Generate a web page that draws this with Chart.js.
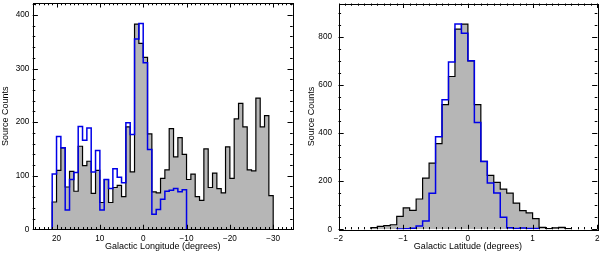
<!DOCTYPE html>
<html>
<head>
<meta charset="utf-8">
<script src="https://cdn.jsdelivr.net/npm/chart.js@4.4.1/dist/chart.umd.min.js"></script>
<style>
  html, body { margin: 0; padding: 0; background: #fff; }
  #wrap { position: relative; width: 600px; height: 253px; }
  canvas { position: absolute; top: 0; }
  #lonChart { left: 0; }
  #latChart { left: 300px; }
</style>
</head>
<body>
<div id="wrap">
  <canvas id="lonChart" width="300" height="253"></canvas>
  <canvas id="latChart" width="300" height="253"></canvas>
</div>
<script>
// longitude histograms, 1 degree bins running from l=+21 down to l=-30
const lonStartAll = 21;
const lonStartSub = 21;
const lonBinWidth = -1;
const lonAll = [51, 110, 152, 79, 108, 71, 155, 119, 127, 67,
                110, 50, 93, 50, 78, 82, 61, 191, 107, 383,
                347, 321, 178, 70, 68, 95, 111, 188, 135, 171,
                140, 93, 103, 61, 54, 150, 78, 105, 76, 68,
                154, 95, 206, 235, 191, 111, 109, 245, 191, 212,
                63];
const lonSub = [103, 173, 152, 36, 93, 106, 192, 166, 189, 107,
                147, 36, 93, 76, 113, 97, 87, 199, 177, 355,
                384, 311, 149, 28, 37, 56, 71, 73, 76, 70,
                74];

// latitude histograms, 0.1 degree bins
const latStartAll = -1.5;
const latStartSub = -1.1;
const latBinWidth = 0.1;
const latAll = [7, 12, 15, 19, 54, 89, 79, 126, 213, 275,
                356, 518, 635, 832, 853, 700, 518, 282, 224, 195,
                167, 150, 109, 78, 68, 44, 8, 3, 6, 8,
                3];
const latSub = [1, 2, 4, 14, 35, 150, 385, 538, 695, 853,
                815, 700, 444, 282, 192, 151, 50, 6, 3, 5,
                3, 3];

const lonTicks = [20, 10, 0, -10, -20, -30];
const latTicks = [-2, -1, 0, 1, 2];
const lonCountTicks = [0, 100, 200, 300, 400];
const latCountTicks = [0, 200, 400, 600, 800];

Chart.defaults.font.family = '"Liberation Sans", Arial, sans-serif';
Chart.defaults.color = '#000';

// turn bin counts into step outline points (left edge of each bin)
function stepPoints(start, width, counts) {
    const pts = [{ x: start, y: 0 }];
    counts.forEach((c, i) => pts.push({ x: start + i * width, y: c }));
    pts.push({ x: start + counts.length * width, y: 0 });
    return pts;
}

const fmt = v => (v < 0 ? '\u2212' + Math.abs(v) : String(v));

// IDL style box with inward major/minor ticks on all four sides
const boxTicks = {
    id: 'boxTicks',
    afterDatasetsDraw(chart, args, o) {
        const { ctx, chartArea: a, scales: { x, y } } = chart;
        const xl = (a.bottom - a.top) * 0.02;
        const yl = (a.right - a.left) * 0.02;
        ctx.save();
        ctx.strokeStyle = '#000';
        ctx.lineWidth = 1;
        ctx.beginPath();
        for (let k = Math.ceil(x.min / o.xMinor - 1e-6); k <= Math.floor(x.max / o.xMinor + 1e-6); k++) {
            const px = Math.round(x.getPixelForValue(k * o.xMinor)) + 0.5;
            const len = k % o.xEvery === 0 ? xl : xl / 2;
            ctx.moveTo(px, a.bottom); ctx.lineTo(px, a.bottom - len);
            ctx.moveTo(px, a.top); ctx.lineTo(px, a.top + len);
        }
        for (let k = Math.ceil(y.min / o.yMinor - 1e-6); k <= Math.floor(y.max / o.yMinor + 1e-6); k++) {
            const py = Math.round(y.getPixelForValue(k * o.yMinor)) + 0.5;
            const len = k % o.yEvery === 0 ? yl : yl / 2;
            ctx.moveTo(a.left, py); ctx.lineTo(a.left + len, py);
            ctx.moveTo(a.right, py); ctx.lineTo(a.right - len, py);
        }
        ctx.stroke();
        ctx.strokeRect(Math.round(a.left) + 0.5, Math.round(a.top) + 0.5,
            Math.round(a.right - a.left), Math.round(a.bottom - a.top));
        ctx.restore();
    }
};

function makeHist(id, c) {
    return new Chart(document.getElementById(id), {
        type: 'line',
        data: {
            datasets: [
                {
                    data: stepPoints(c.subStart, c.width, c.sub),
                    stepped: true, pointRadius: 0, fill: false,
                    borderColor: '#0000e8', borderWidth: 1.5, order: 1
                },
                {
                    data: stepPoints(c.allStart, c.width, c.all),
                    stepped: true, pointRadius: 0, fill: 'origin',
                    borderColor: '#000', borderWidth: 1.2,
                    backgroundColor: '#b6b6b6', order: 2
                }
            ]
        },
        options: {
            responsive: false,
            animation: false,
            events: [],
            layout: { padding: c.pad },
            plugins: {
                legend: { display: false },
                tooltip: { enabled: false },
                boxTicks: c.marks
            },
            scales: {
                x: {
                    type: 'linear',
                    reverse: c.reverse,
                    min: c.xMin,
                    max: c.xMax,
                    grid: { display: false, drawTicks: false },
                    border: { display: false },
                    ticks: { font: { size: 8.2 }, padding: 5, maxRotation: 0, callback: fmt },
                    afterBuildTicks: s => { s.ticks = c.xTicks.map(v => ({ value: v })); },
                    afterFit: s => { s.height = 23.7; s.paddingLeft = 0; s.paddingRight = 0; },
                    title: { display: true, text: c.xTitle, font: { size: 9 }, padding: { top: 0, bottom: 0.6 } }
                },
                y: {
                    type: 'linear',
                    min: 0,
                    max: Math.max(...c.all, ...c.sub) * 1.1,
                    grid: { display: false, drawTicks: false },
                    border: { display: false },
                    ticks: { font: { size: 8.2 }, padding: c.yPad, callback: fmt },
                    afterBuildTicks: s => { s.ticks = c.yTicks.map(v => ({ value: v })); },
                    afterFit: s => { s.width = c.yWidth; s.paddingTop = 0; s.paddingBottom = 0; },
                    title: { display: true, text: 'Source Counts', font: { size: 9 }, padding: { top: c.yTitlePad, bottom: 0 } }
                }
            }
        },
        plugins: [boxTicks]
    });
}

makeHist('lonChart', {
    all: lonAll, sub: lonSub, allStart: lonStartAll, subStart: lonStartSub, width: lonBinWidth,
    reverse: true, xMin: -34.5, xMax: 25.5, xTicks: lonTicks, yTicks: lonCountTicks,
    xTitle: 'Galactic Longitude (degrees)',
    pad: { left: 0, top: 3, right: 7.3, bottom: 0 }, yWidth: 32.7, yPad: 3.4, yTitlePad: 0,
    marks: { xMinor: 1, xEvery: 10, yMinor: 20, yEvery: 5 }
});

makeHist('latChart', {
    all: latAll, sub: latSub, allStart: latStartAll, subStart: latStartSub, width: latBinWidth,
    reverse: false, xMin: -2, xMax: 2, xTicks: latTicks, yTicks: latCountTicks,
    xTitle: 'Galactic Latitude (degrees)',
    pad: { left: 0, top: 3.5, right: 2.7, bottom: 0 }, yWidth: 38.5, yPad: 6.5, yTitlePad: 6.3,
    marks: { xMinor: 0.1, xEvery: 10, yMinor: 50, yEvery: 4 }
});
</script>
</body>
</html>
